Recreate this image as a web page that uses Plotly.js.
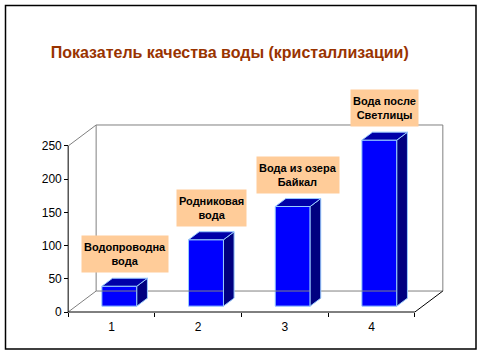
<!DOCTYPE html>
<html><head><meta charset="utf-8">
<script src="https://cdn.plot.ly/plotly-3.0.1.min.js"></script>
<style>html,body{margin:0;padding:0;background:#fff}#chart{width:483px;height:355px}</style>
</head><body><div id="chart"></div>
<script>
const categories = [1, 2, 3, 4];
const tickLabels = ['1', '2', '3', '4'];
const values = [30, 100, 150, 250];
const barLabels = ['Водопроводна<br>вода', 'Родниковая<br>вода', 'Вода из озера<br>Байкал', 'Вода после<br>Светлицы'];
const yTicks = [0, 50, 100, 150, 200, 250];
const titleText = 'Показатель качества воды (кристаллизации)';

// 3-D projection constants (data units)
const DX = 0.3228, DY = 31.6;
const fFront = 0.28, fBack = 0.66;
const barW = 0.403;
const xMin = 0.5, xMax = categories.length + 0.5;
const yMax = yTicks[yTicks.length - 1];
const padX = 0.025, padY = 3;
const xr = [xMin - padX, xMax + DX + padX];
const yr = [-padY, yMax + DY + padY];

const base = fFront * DY;
const off = fFront * DX;
const ddx = (fBack - fFront) * DX, ddy = (fBack - fFront) * DY;

const FONT = 'Liberation Sans, Arial, sans-serif';
const traces = [];

// back wall and side edges (grey)
traces.push({
  type: 'scatter', mode: 'lines', hoverinfo: 'skip', showlegend: false,
  line: {color: '#808080', width: 1},
  x: [xMin + DX, xMax + DX, xMax + DX, xMin + DX, xMin + DX, null, xMin, xMin + DX, null, xMin, xMin + DX],
  y: [DY, DY, yMax + DY, yMax + DY, DY, null, 0, DY, null, yMax, yMax + DY]
});
// front axes (black)
traces.push({
  type: 'scatter', mode: 'lines', hoverinfo: 'skip', showlegend: false,
  line: {color: '#000000', width: 1},
  x: [xMin, xMin, xMax, xMax + DX],
  y: [yMax, 0, 0, DY]
});

// side and top faces
const sx = [], sy = [], tx = [], ty = [];
categories.forEach((c, i) => {
  const x0 = c + off - barW / 2, x1 = c + off + barW / 2;
  const top = base + values[i];
  sx.push(x1, x1 + ddx, x1 + ddx, x1, x1, null);
  sy.push(base, base + ddy, top + ddy, top, base, null);
  tx.push(x0, x1, x1 + ddx, x0 + ddx, x0, null);
  ty.push(top, top, top + ddy, top + ddy, top, null);
});
traces.push({type: 'scatter', mode: 'lines', fill: 'toself', fillcolor: '#000080',
  line: {color: '#99CCFF', width: 1}, x: sx, y: sy, hoverinfo: 'skip', showlegend: false});
traces.push({type: 'scatter', mode: 'lines', fill: 'toself', fillcolor: '#0000A8',
  line: {color: '#99CCFF', width: 1}, x: tx, y: ty, hoverinfo: 'skip', showlegend: false});
// front faces
traces.push({
  type: 'bar', x: categories.map(c => c + off), y: values, base: base, width: barW,
  marker: {color: '#0000FF', line: {color: '#99CCFF', width: 1}},
  hoverinfo: 'skip', showlegend: false
});

const annotations = categories.map((c, i) => ({
  x: c + off + ddx / 2, y: base + values[i] + ddy, xref: 'x', yref: 'y',
  text: '<b>' + barLabels[i] + '</b>', showarrow: false,
  yanchor: 'bottom', xanchor: 'center', yshift: 5,
  bgcolor: '#FFCC99', borderpad: 2, height: 32, valign: 'middle', align: 'center',
  font: {family: FONT, size: 11, color: '#000000'}
}));

const layout = {
  width: 483, height: 355,
  margin: {l: 66, r: 38, t: 123, b: 41, pad: 0},
  paper_bgcolor: '#ffffff', plot_bgcolor: 'rgba(0,0,0,0)',
  title: {
    text: '<b>' + titleText + '</b>',
    font: {family: FONT, size: 16, color: '#993300'},
    xref: 'container', x: 229.7 / 483, xanchor: 'center',
    yref: 'container', y: 1 - 52 / 355, yanchor: 'middle'
  },
  xaxis: {
    range: xr, showgrid: false, zeroline: false, showline: false,
    tickmode: 'array', tickvals: categories, ticktext: tickLabels, ticks: '',
    ticklabelstandoff: 6,
    anchor: 'free', position: (0 - yr[0]) / (yr[1] - yr[0]),
    tickfont: {family: FONT, size: 12, color: '#000'},
    minor: {tickmode: 'array', tickvals: [0, 1, 2, 3, 4].map(k => k + xMin), ticks: 'outside', ticklen: 4, tickcolor: '#000', tickwidth: 1, showgrid: false}
  },
  yaxis: {
    range: yr, showgrid: false, zeroline: false, showline: false,
    tickmode: 'array', tickvals: yTicks, ticks: 'outside', ticklen: 4, tickcolor: '#000', tickwidth: 1,
    anchor: 'free', position: (xMin - xr[0]) / (xr[1] - xr[0]),
    tickfont: {family: FONT, size: 12, color: '#000'}
  },
  annotations: annotations,
  shapes: [{
    type: 'rect', xref: 'paper', yref: 'paper',
    x0: (5.5 - 66) / 379, x1: (476 - 66) / 379,
    y0: (314 - 349) / 191, y1: (314 - 5.5) / 191,
    line: {color: '#000', width: 1.5}, fillcolor: 'rgba(0,0,0,0)'
  }],
  bargap: 0
};

Plotly.newPlot('chart', traces, layout, {displayModeBar: false, staticPlot: true});
</script>
</body></html>
